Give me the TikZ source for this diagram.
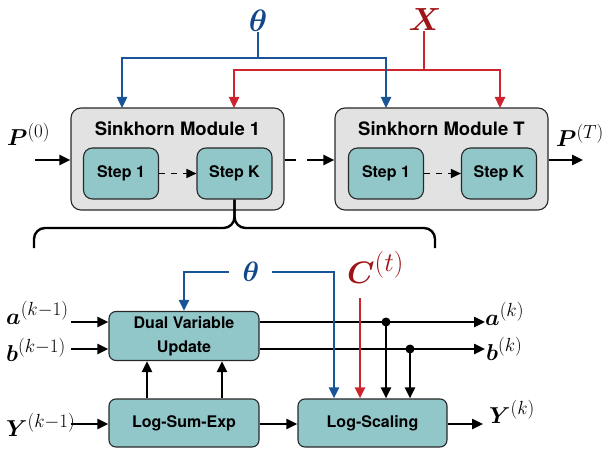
\RequirePackage{fix-cm}
\documentclass[tikz,border=0pt]{standalone}
\usepackage{fontspec}
\usepackage{amsmath,bm}
\setsansfont{TeX Gyre Heros}
\usetikzlibrary{arrows.meta,calc}
\DeclareMathSizes{23}{23}{19}{14}
\DeclareMathSizes{31}{31}{27}{20}
\definecolor{lblue}{RGB}{24,84,150}
\definecolor{tblue}{RGB}{18,72,138}
\definecolor{lred}{RGB}{206,36,46}
\definecolor{tred}{RGB}{158,20,24}
\definecolor{teal}{RGB}{146,199,201}
\definecolor{modgray}{RGB}{226,226,226}
\definecolor{edge}{RGB}{40,40,40}
\tikzset{
  module/.style={draw=edge,line width=1.1pt,fill=modgray,rounded corners=10pt,minimum width=213pt,minimum height=102pt,inner sep=0pt},
  stepbox/.style={draw=edge,line width=1.1pt,fill=teal,rounded corners=9pt,minimum width=75pt,minimum height=51pt,inner sep=0pt,font=\sffamily\bfseries\fontsize{16}{18}\selectfont},
  blockbox/.style={draw=edge,line width=1.1pt,fill=teal,rounded corners=7pt,minimum width=150pt,minimum height=49pt,inner sep=0pt,align=center,font=\sffamily\bfseries\fontsize{16}{24}\selectfont},
  title/.style={font=\sffamily\bfseries\fontsize{18.5}{20}\selectfont,inner sep=0pt},
  conn/.style={line width=2.4pt,draw=black},
  arr/.style={conn,-{Triangle[length=11pt,width=10pt]}},
  barr/.style={arr,draw=lblue},
  rarr/.style={arr,draw=lred},
  mlab/.style={inner sep=0pt,anchor=base west,font=\fontsize{23}{26}\selectfont},
  dot/.style={circle,fill=black,inner sep=0pt,minimum size=9pt},
}
\begin{document}
\begin{tikzpicture}[x=1pt,y=-1pt]
\useasboundingbox (0,0) rectangle (613,449);
% modules
\node[module] (m1) at (177.5,159) {};
\node[module] (mT) at (441.5,159) {};
\node[title] (t1) at (177.5,129) {Sinkhorn Module 1};
\node[title] (tT) at (441.5,129) {Sinkhorn Module T};
\node[stepbox] (s11) at (121,173.5) {Step 1};
\node[stepbox] (s1K) at (234.5,173.5) {Step K};
\node[stepbox] (sT1) at (386,173.5) {Step 1};
\node[stepbox] (sTK) at (499,173.5) {Step K};
\draw[arr,line width=1.6pt,dash pattern=on 6pt off 6pt,-{Triangle[length=10pt,width=9pt]}] (s11) -- (s1K);
\draw[arr,line width=1.6pt,dash pattern=on 6pt off 6pt,-{Triangle[length=10pt,width=9pt]}] (sT1) -- (sTK);
% P labels and arrows
\coordinate (pin) at (35,160);
\coordinate (pout) at (583,160);
\node[mlab] (p0) at (7,146) {$\bm{P}^{(0)}$};
\node[mlab] (pT) at (556,147) {$\bm{P}^{(T)}$};
\draw[arr] (pin) -- (m1.west |- pin);
\draw[arr] (mT.east |- pout) -- (pout);
\coordinate (mid1) at (296,160);
\coordinate (mid2) at (307,160);
\draw[conn] (m1.east |- mid1) -- (mid1);
\draw[arr] (mid2) -- (mT.west |- mid2);
% top theta and X
\node[inner sep=0pt,text=tblue,font=\fontsize{31}{34}\selectfont] (th) at (258,21) {$\bm{\theta}$};
\node[inner sep=0pt,text=tred,font=\fontsize{32}{34}\selectfont] (X) at (425,20) {$\bm{X}$};
\coordinate (xj) at (424,70);
\draw[conn,draw=lred] (X.south -| xj) -- (xj);
\draw[rarr] (xj) -| (234,108);
\draw[rarr] (xj) -| (500,108);
\coordinate (tj) at (258,58);
\draw[conn,draw=lblue] (th.south -| tj) -- (tj);
\draw[barr] (tj) -| (122,108);
\draw[barr] (tj) -| (386,108);
% brace
\coordinate (bl) at (34,248);
\coordinate (br) at (435,248);
\draw[line width=2.4pt,rounded corners=11pt] (bl) |- (234.5,228) -- (s1K.south);
\draw[line width=2.4pt,rounded corners=11pt] (br) |- (234.5,228) -- (s1K.south);
% lower blocks
\node[blockbox] (dvu) at (184,336) {Dual Variable\\Update};
\node[blockbox,minimum height=48pt] (lse) at (184,423) {Log-Sum-Exp};
\node[blockbox,minimum width=149pt,minimum height=48pt] (ls) at (372.5,423) {Log-Scaling};
% inputs
\coordinate (ain) at (71,322);
\coordinate (bin) at (71,349);
\coordinate (yin) at (71,424);
\node[mlab] (al) at (6,324) {$\bm{a}^{(k-1)}$};
\node[mlab] (bl2) at (6,361) {$\bm{b}^{(k-1)}$};
\node[mlab] (yl) at (6,436) {$\bm{Y}^{(k-1)}$};
\draw[arr] (ain) -- (dvu.west |- ain);
\draw[arr] (bin) -- (dvu.west |- bin);
\draw[arr] (yin) -- (lse.west |- yin);
\draw[arr] ($(lse.north)+(-37,0)$) -- ($(dvu.south)+(-37,0)$);
\draw[arr] ($(lse.north)+(38,0)$) -- ($(dvu.south)+(38,0)$);
\draw[arr] (lse.east |- yin) -- (ls.west |- yin);
% outputs
\coordinate (aout) at (485,322);
\coordinate (bout) at (485,349);
\coordinate (yout) at (483,424);
\node[mlab] (ar) at (485,325) {$\bm{a}^{(k)}$};
\node[mlab] (br2) at (486,360) {$\bm{b}^{(k)}$};
\node[mlab] (yr) at (489,423) {$\bm{Y}^{(k)}$};
\draw[arr] (dvu.east |- aout) -- (aout);
\draw[arr] (dvu.east |- bout) -- (bout);
\draw[arr] (ls.east |- yout) -- (yout);
\node[dot] (da) at (386,322) {};
\node[dot] (db) at (410,349) {};
\draw[arr] (da.center) -- (ls.north -| da);
\draw[arr] (db.center) -- (ls.north -| db);
% lower theta and C
\node[inner sep=0pt,text=tblue,font=\fontsize{28}{30}\selectfont] (th2) at (251,272) {$\bm{\theta}$};
\draw[barr] (229,272) -| (dvu.north);
\draw[barr] (272,272) -| (ls.north -| 334,0);
\node[inner sep=0pt,text=tred,font=\fontsize{31}{34}\selectfont,anchor=base west] (C) at (347,283) {$\bm{C}^{(t)}$};
\coordinate (cs) at (360,298);
\draw[rarr] (cs) -- (ls.north -| cs);
\end{tikzpicture}
\end{document}
